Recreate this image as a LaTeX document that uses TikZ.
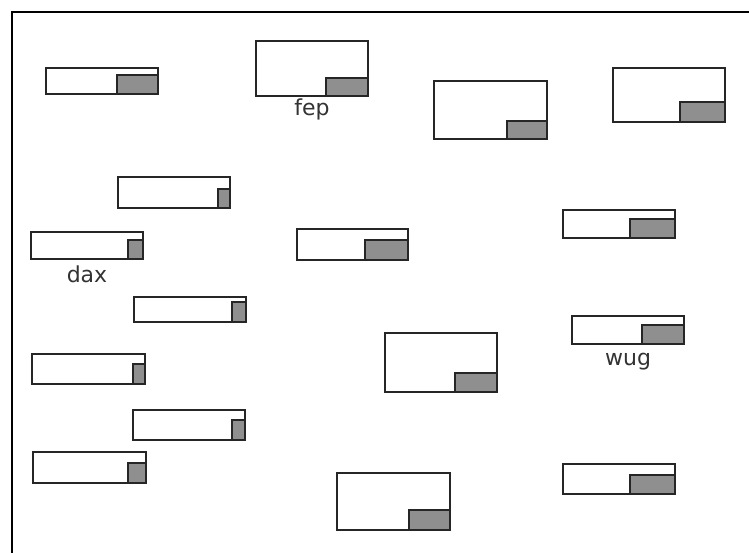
\documentclass[tikz,border=0pt]{standalone}
\usepackage{fontspec}
\setmainfont{DejaVu Sans}
\definecolor{tabgray}{RGB}{143,143,143}
\tikzset{
  cardframe/.style={draw=black!85, line width=1.5pt, fill=white},
  cardtab/.style={draw=black!85, line width=1.5pt, fill=tabgray},
  cardlabel/.style={font=\fontsize{22}{26}\selectfont, text=black!80, anchor=base, inner sep=0pt},
  outerframe/.style={draw=black, line width=2.6pt},
}
% card: name, left, top, right, bottom, tab left, tab top
\newcommand\cardbox[7]{%
  \draw[cardframe] (#2,#3) rectangle (#4,#5);
  \draw[cardtab] (#6,#7) rectangle (#4,#5);
  \coordinate (#1) at ({(#2+#4)/2},#5);
}
\begin{document}
\begin{tikzpicture}[x=1pt,y=-1pt]
  \useasboundingbox (0,0) rectangle (749,552);
  \fill[white] (0,0) rectangle (749,552);
  \begin{scope}
    \clip (0,0) rectangle (749,552);
    \draw[outerframe] (12,12) rectangle (770,580);
  \end{scope}

  \cardbox{ca}{46}{68}{158}{94}{117}{75}
  \cardbox{fep}{256}{41}{368}{96}{326}{78}
  \cardbox{cc}{434}{81}{547}{139}{507}{121}
  \cardbox{cd}{613}{68}{725}{122}{680}{102}
  \cardbox{ce}{118}{177}{230}{208}{218}{189}
  \cardbox{dax}{31}{232}{143}{259}{128}{240}
  \cardbox{cg}{297}{229}{408}{260}{365}{240}
  \cardbox{ch}{563}{210}{675}{238}{630}{219}
  \cardbox{ci}{134}{297}{246}{322}{232}{302}
  \cardbox{cj}{385}{333}{497}{392}{455}{373}
  \cardbox{wug}{572}{316}{684}{344}{642}{325}
  \cardbox{cl}{32}{354}{145}{384}{133}{364}
  \cardbox{cm}{133}{410}{245}{440}{232}{420}
  \cardbox{cn}{33}{452}{146}{483}{128}{463}
  \cardbox{co}{337}{473}{450}{530}{409}{510}
  \cardbox{cp}{563}{464}{675}{494}{630}{475}

  \node[cardlabel] (feplabel) at ([yshift=-19pt]fep) {fep};
  \node[cardlabel] (daxlabel) at ([yshift=-23pt]dax) {dax};
  \node[cardlabel] (wuglabel) at ([yshift=-21pt]wug) {wug};
\end{tikzpicture}
\end{document}
